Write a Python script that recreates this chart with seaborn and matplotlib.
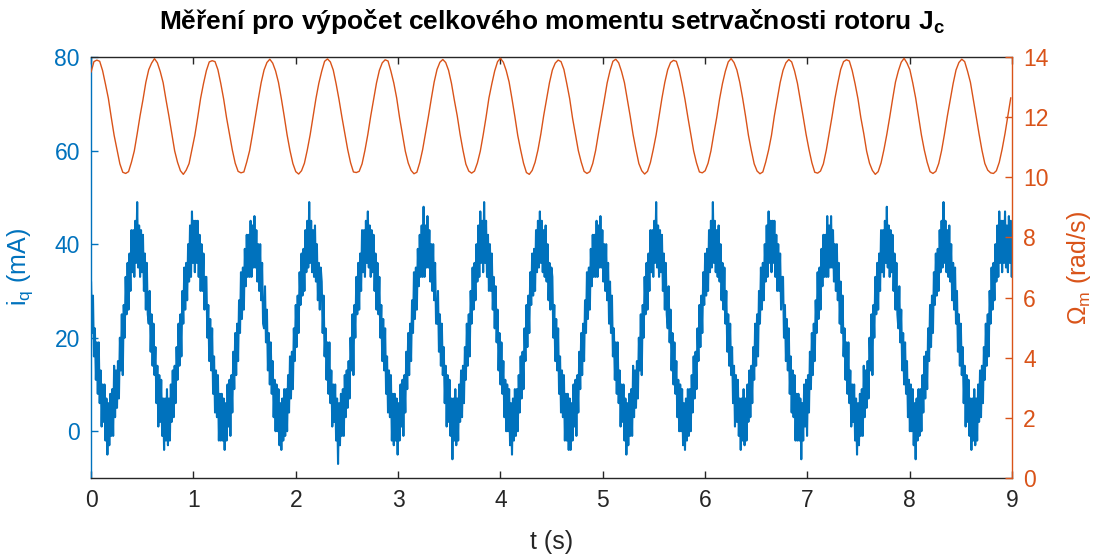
import numpy as np
import matplotlib
matplotlib.use("Agg")
import matplotlib.pyplot as plt
import seaborn as sns

# Sampling periods of the two logged signals (s)
DT_OMEGA = 0.028175
DT_IQ = 0.0093917

# Rotor angular speed Omega_m (rad/s)
omega_m = [
    13.50, 13.85, 13.90, 13.86, 13.55, 13.10, 12.63, 12.00, 11.40, 10.92, 10.45, 10.17, 10.13, 10.19, 10.50, 10.88, 11.45, 12.05, 12.58, 13.16,
    13.58, 13.80, 13.95, 13.81, 13.52, 13.15, 12.58, 12.04, 11.45, 10.88, 10.50, 10.22, 10.10, 10.24, 10.46, 10.93, 11.40, 12.00, 12.63, 13.12,
    13.55, 13.84, 13.88, 13.85, 13.58, 13.12, 12.60, 11.98, 11.44, 10.91, 10.47, 10.20, 10.15, 10.18, 10.51, 10.89, 11.44, 12.03, 12.60, 13.15,
    13.57, 13.82, 13.93, 13.80, 13.54, 13.16, 12.62, 12.03, 11.41, 10.89, 10.46, 10.19, 10.11, 10.22, 10.47, 10.91, 11.42, 12.01, 12.62, 13.13,
    13.53, 13.86, 13.94, 13.84, 13.57, 13.11, 12.59, 12.01, 11.46, 10.93, 10.49, 10.18, 10.16, 10.20, 10.45, 10.90, 11.43, 12.04, 12.59, 13.14,
    13.56, 13.81, 13.91, 13.87, 13.53, 13.14, 12.64, 11.99, 11.42, 10.87, 10.48, 10.23, 10.12, 10.17, 10.49, 10.92, 11.46, 12.02, 12.61, 13.17,
    13.59, 13.83, 13.92, 13.82, 13.56, 13.13, 12.57, 12.05, 11.43, 10.90, 10.44, 10.21, 10.14, 10.21, 10.48, 10.87, 11.41, 12.00, 12.64, 13.11,
    13.54, 13.85, 13.96, 13.83, 13.55, 13.17, 12.61, 12.02, 11.39, 10.91, 10.47, 10.16, 10.10, 10.23, 10.50, 10.91, 11.44, 12.06, 12.60, 13.15,
    13.57, 13.80, 13.90, 13.85, 13.59, 13.12, 12.62, 11.97, 11.44, 10.89, 10.51, 10.20, 10.13, 10.19, 10.46, 10.89, 11.47, 12.01, 12.57, 13.14,
    13.55, 13.86, 13.93, 13.81, 13.52, 13.15, 12.60, 12.03, 11.42, 10.92, 10.46, 10.22, 10.11, 10.20, 10.49, 10.93, 11.42, 12.03, 12.63, 13.16,
    13.58, 13.82, 13.89, 13.86, 13.56, 13.10, 12.59, 12.00, 11.45, 10.88, 10.48, 10.18, 10.15, 10.22, 10.47, 10.88, 11.45, 11.99, 12.61, 13.12,
    13.53, 13.84, 13.95, 13.82, 13.57, 13.16, 12.63, 12.04, 11.40, 10.90, 10.45, 10.21, 10.12, 10.18, 10.51, 10.91, 11.40, 12.05, 12.59, 13.15,
    13.56, 13.81, 13.92, 13.84, 13.54, 13.13, 12.58, 12.01, 11.43, 10.93, 10.49, 10.17, 10.14, 10.21, 10.45, 10.90, 11.46, 12.02, 12.62, 13.13,
    13.59, 13.85, 13.91, 13.87, 13.55, 13.11, 12.61, 11.98, 11.46, 10.87, 10.47, 10.23, 10.10, 10.19, 10.48, 10.92, 11.43, 12.00, 12.60, 13.17,
    13.54, 13.83, 13.96, 13.80, 13.58, 13.14, 12.64, 12.03, 11.41, 10.91, 10.50, 10.19, 10.13, 10.20, 10.46, 10.89, 11.44, 12.04, 12.58, 13.12,
    13.57, 13.82, 13.93, 13.85, 13.53, 13.16, 12.60, 12.02, 11.44, 10.90, 10.46, 10.24, 10.15, 10.13, 10.22, 10.50, 10.94, 11.46, 12.05, 12.65,
]

# Quadrature current i_q (mA)
i_q = [
    32, 21, 29, 16, 22, 11, 19, 8, 19, 6, 13, 1, 10, 2, 10, -2, 7, -5, 6, -3, 8, -1, 9, -1, 14, 3, 13, 5, 15, 7,
    20, 13, 25, 12, 27, 20, 33, 25, 36, 26, 38, 30, 43, 34, 43, 33, 45, 36, 49, 35, 44, 33, 43, 34, 42, 30, 38, 26, 36, 25,
    23, 30, 17, 25, 14, 23, 12, 18, 6, 14, 1, 12, 2, 11, -1, 7, -4, 7, -2, 9, -3, 7, -2, 10, 2, 13, 3, 14, 6, 18,
    11, 23, 14, 25, 16, 30, 23, 35, 26, 36, 28, 40, 32, 44, 33, 47, 36, 45, 34, 45, 36, 45, 33, 42, 30, 40, 30, 38, 26, 33,
    33, 20, 27, 15, 24, 13, 22, 8, 16, 4, 13, 3, 12, -2, 8, -2, 8, -2, 7, -4, 6, -2, 10, 1, 11, -1, 12, 4, 17, 9,
    21, 12, 23, 15, 28, 21, 34, 24, 35, 26, 39, 31, 42, 33, 42, 33, 45, 33, 44, 35, 46, 35, 43, 32, 40, 30, 40, 28, 36, 23,
    22, 31, 19, 26, 13, 21, 10, 19, 8, 15, 3, 11, 0, 10, 0, 9, -3, 6, -4, 7, -2, 9, -1, 9, 0, 12, 4, 16, 7, 17,
    9, 22, 15, 27, 18, 29, 21, 34, 27, 38, 29, 39, 30, 43, 34, 45, 35, 49, 36, 45, 34, 43, 33, 44, 32, 40, 28, 36, 26, 35,
    32, 21, 29, 16, 22, 11, 19, 8, 19, 6, 13, 1, 10, 2, 10, -2, 7, -7, 6, -3, 8, -1, 9, -1, 12, 3, 13, 5, 15, 7,
    20, 13, 25, 12, 27, 20, 33, 25, 36, 26, 38, 30, 43, 34, 43, 33, 45, 36, 47, 35, 44, 33, 43, 34, 42, 30, 38, 26, 36, 25,
    33, 20, 27, 15, 24, 13, 22, 8, 16, 4, 13, 3, 12, -2, 8, -3, 8, -2, 7, -5, 6, -2, 10, 1, 11, -1, 12, 4, 17, 9,
    21, 12, 23, 15, 28, 21, 34, 24, 35, 26, 39, 31, 42, 33, 44, 33, 48, 33, 44, 35, 46, 35, 43, 32, 40, 30, 40, 28, 36, 23,
    23, 30, 17, 25, 14, 23, 12, 18, 6, 14, 1, 12, 2, 11, -1, 7, -6, 7, -2, 9, -3, 7, -2, 10, 2, 13, 3, 14, 6, 18,
    11, 23, 14, 25, 16, 30, 23, 35, 26, 36, 28, 40, 32, 44, 33, 47, 36, 45, 34, 49, 36, 45, 33, 42, 30, 40, 30, 38, 26, 33,
    22, 31, 19, 26, 13, 21, 10, 19, 8, 15, 3, 11, 0, 10, 0, 9, -3, 6, -5, 7, -2, 9, -1, 9, 0, 12, 4, 16, 7, 17,
    9, 22, 15, 27, 18, 29, 21, 34, 27, 38, 29, 39, 30, 43, 34, 45, 35, 47, 36, 45, 34, 43, 33, 44, 32, 40, 28, 36, 26, 35,
    33, 20, 27, 15, 24, 13, 22, 8, 16, 4, 13, 3, 12, -2, 8, -2, 8, -4, 7, -4, 6, -2, 10, 1, 11, -1, 12, 4, 17, 9,
    21, 12, 23, 15, 28, 21, 34, 24, 35, 26, 39, 31, 42, 33, 42, 33, 45, 33, 44, 35, 46, 35, 43, 32, 40, 30, 40, 28, 36, 23,
    32, 21, 29, 16, 22, 11, 19, 8, 19, 6, 13, 1, 10, 2, 10, -2, 7, -5, 6, -3, 8, -1, 9, -1, 14, 3, 13, 5, 15, 7,
    20, 13, 25, 12, 27, 20, 33, 25, 36, 26, 38, 30, 43, 34, 43, 33, 45, 36, 49, 35, 44, 33, 43, 34, 42, 30, 38, 26, 36, 25,
    22, 31, 19, 26, 13, 21, 10, 19, 8, 15, 3, 11, 0, 10, 0, 9, -3, 6, -4, 7, -2, 9, -1, 9, 0, 12, 4, 16, 7, 17,
    9, 22, 15, 27, 18, 29, 21, 34, 27, 38, 29, 39, 30, 43, 34, 45, 35, 49, 36, 45, 34, 43, 33, 44, 32, 40, 28, 36, 26, 35,
    23, 30, 17, 25, 14, 23, 12, 18, 6, 14, 1, 12, 2, 11, -1, 7, -4, 7, -2, 9, -3, 7, -2, 10, 2, 13, 3, 14, 6, 18,
    11, 23, 14, 25, 16, 30, 23, 35, 26, 36, 28, 40, 32, 44, 33, 47, 36, 45, 34, 45, 36, 45, 33, 42, 30, 40, 30, 38, 26, 33,
    33, 20, 27, 15, 24, 13, 22, 8, 16, 4, 13, 3, 12, -2, 8, -2, 8, -2, 7, -6, 6, -2, 10, 1, 11, -1, 12, 4, 17, 9,
    21, 12, 23, 15, 28, 21, 34, 24, 35, 26, 39, 31, 42, 33, 42, 33, 46, 33, 44, 35, 46, 35, 43, 32, 40, 30, 40, 28, 36, 23,
    32, 21, 29, 16, 22, 11, 19, 8, 19, 6, 13, 1, 10, 2, 10, -2, 7, -5, 6, -3, 8, -1, 9, -1, 14, 3, 13, 5, 15, 7,
    20, 13, 25, 12, 27, 20, 33, 25, 36, 26, 38, 30, 43, 34, 43, 33, 45, 36, 48, 35, 44, 33, 43, 34, 42, 30, 38, 26, 36, 25,
    22, 31, 19, 26, 13, 21, 10, 19, 8, 15, 3, 11, 0, 10, 0, 9, -3, 6, -6, 7, -2, 9, -1, 9, 0, 12, 4, 16, 7, 17,
    9, 22, 15, 27, 18, 29, 21, 34, 27, 38, 29, 39, 30, 43, 34, 45, 35, 49, 36, 45, 34, 43, 33, 44, 32, 40, 28, 36, 26, 35,
    23, 30, 17, 25, 14, 23, 12, 18, 6, 14, 1, 12, 2, 11, -1, 7, -4, 7, -2, 9, -3, 7, -2, 10, 2, 13, 3, 14, 6, 18,
    11, 23, 14, 25, 16, 30, 23, 35, 26, 36, 28, 40, 32, 44, 33, 47, 36, 45, 34, 45, 36, 47, 35, 44, 34, 46, 36, 45, 33, 43,
]

x_ticks = [0, 1, 2, 3, 4, 5, 6, 7, 8, 9]
iq_ticks = [0, 20, 40, 60, 80]
omega_ticks = [0, 2, 4, 6, 8, 10, 12, 14]

BLUE = "#0072BD"
ORANGE = "#D95319"
DARK = "#262626"

sns.set_style("white")
plt.rcParams["font.family"] = ["Liberation Sans", "DejaVu Sans"]
plt.rcParams["mathtext.fontset"] = "custom"
plt.rcParams["mathtext.rm"] = "Liberation Sans"
plt.rcParams["mathtext.it"] = "Liberation Sans"
plt.rcParams["mathtext.bf"] = "Liberation Sans:bold"

t_iq = np.arange(len(i_q)) * DT_IQ
t_omega = np.arange(len(omega_m)) * DT_OMEGA

fig = plt.figure(figsize=(11.01, 5.56), dpi=100)
ax = fig.add_axes([0.0827, 0.1403, 0.8365, 0.757])
ax2 = ax.twinx()

sns.lineplot(x=t_iq, y=np.asarray(i_q, dtype=float), ax=ax, color=BLUE,
             linewidth=1.5, sort=False, estimator=None)
sns.lineplot(x=t_omega, y=np.asarray(omega_m, dtype=float), ax=ax2, color=ORANGE,
             linewidth=1.0, sort=False, estimator=None)

ax.set_xlim(0, 9)
ax.set_ylim(-10, 80)
ax2.set_ylim(0, 14)
ax.set_xticks(x_ticks)
ax.set_yticks(iq_ticks)
ax2.set_yticks(omega_ticks)

# spines
for s in ("top", "bottom"):
    ax.spines[s].set_color(DARK)
    ax.spines[s].set_linewidth(1.0)
ax.spines["left"].set_color(BLUE)
ax.spines["left"].set_linewidth(1.0)
ax.spines["right"].set_visible(False)
for s in ("top", "bottom", "left"):
    ax2.spines[s].set_visible(False)
ax2.spines["right"].set_color(ORANGE)
ax2.spines["right"].set_linewidth(1.0)

ax.tick_params(axis="x", direction="in", top=True, bottom=True, length=5,
               width=1.0, color=DARK, labelcolor=DARK, labelsize=16.5, pad=8)
ax.tick_params(axis="y", direction="in", left=True, right=False, length=5,
               width=1.0, color=BLUE, labelcolor=BLUE, labelsize=16.5, pad=8)
ax2.tick_params(axis="y", direction="in", left=False, right=True, length=5,
                width=1.0, color=ORANGE, labelcolor=ORANGE, labelsize=16.5, pad=8)

ax.set_xlabel("t (s)", fontsize=18, color=DARK, labelpad=13)
ax.set_ylabel(r"i$_{\mathrm{q}}$ (mA)", fontsize=18, color=BLUE, labelpad=14)
ax2.set_ylabel(r"$\Omega_{\mathrm{m}}$ (rad/s)", fontsize=18, color=ORANGE, labelpad=12)
ax.set_title(r"Měření pro výpočet celkového momentu setrvačnosti rotoru J$_{\mathbf{c}}$",
             fontsize=19, fontweight="bold", color="black", pad=20)

fig.savefig("out.png", dpi=100, facecolor="white")
